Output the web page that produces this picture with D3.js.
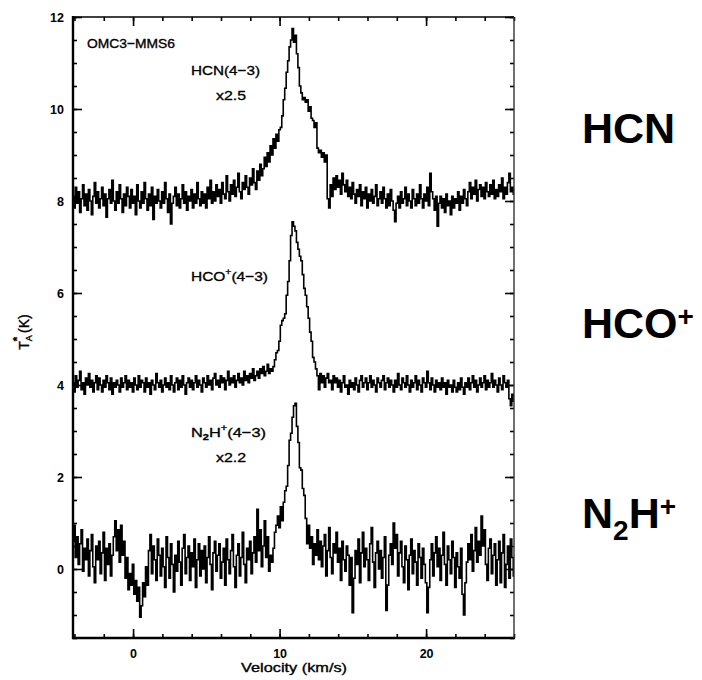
<!DOCTYPE html>
<html>
<head>
<meta charset="utf-8">
<script src="https://cdn.jsdelivr.net/npm/d3@7/dist/d3.min.js"></script>
<style>
  html, body { margin: 0; padding: 0; background: #fff; }
  svg { display: block; }
  text { font-family: "Liberation Sans", Arial, Helvetica, sans-serif; }
</style>
</head>
<body>
<svg id="chart" width="702" height="680"></svg>
<script>
// ---- data ----
const velocityStart = -4.1;   // km/s, first channel
const velocityStep = 0.1;     // km/s, channel width
const xMajorTicks = [0, 10, 20];
const yMajorTicks = [0, 2, 4, 6, 8, 10, 12];

// HCN(4-3) x2.5, offset +8 K
const hcn = [
  8.10, 7.85, 8.30, 7.95, 8.20, 7.75, 8.05, 8.35, 7.90, 8.15,
  7.80, 8.25, 8.00, 7.70, 8.10, 8.40, 7.95, 8.20, 7.85, 8.05,
  8.30, 7.90, 8.15, 7.65, 8.05, 8.25, 7.95, 8.45, 8.00, 7.80,
  8.20, 7.95, 8.35, 8.05, 7.75, 8.15, 7.90, 8.30, 8.10, 7.85,
  8.25, 7.95, 8.10, 7.70, 8.35, 8.00, 7.85, 8.20, 7.95, 8.40,
  8.05, 7.80, 8.15, 7.90, 8.30, 7.60, 8.10, 7.95, 8.25, 8.00,
  7.85, 8.20, 7.95, 8.40, 8.05, 7.75, 8.15, 7.50, 7.95, 8.10,
  8.30, 7.90, 8.15, 7.85, 8.05, 8.35, 7.95, 8.20, 7.80, 8.10,
  8.00, 8.25, 7.85, 8.15, 7.95, 8.40, 8.05, 7.90, 8.20, 7.95,
  8.15, 7.85, 8.30, 8.05, 8.45, 7.95, 8.20, 8.00, 8.35, 8.10,
  8.25, 7.95, 8.40, 8.15, 8.05, 8.55, 8.20, 8.00, 8.35, 8.15,
  8.45, 8.10, 8.30, 8.60, 8.20, 8.05, 8.40, 8.25, 8.55, 8.30,
  8.15, 8.50, 8.35, 8.70, 8.40, 8.25, 8.65, 8.45, 8.80, 8.55,
  8.70, 8.95, 8.75, 9.05, 8.85, 9.20, 9.00, 9.35, 9.15, 9.45,
  9.30, 9.55, 9.60, 9.85, 10.20, 10.45, 10.80, 11.05, 11.35, 11.50,
  11.75, 11.45, 11.60, 11.20, 10.90, 10.50, 10.35, 10.20, 10.25, 10.15,
  10.20, 9.95, 10.05, 9.80, 9.75, 9.60, 9.70, 9.15, 9.05, 9.10,
  8.95, 9.05, 8.85, 9.00, 8.05, 7.85, 8.35, 8.10, 8.50, 8.25,
  8.55, 8.30, 8.45, 8.15, 8.60, 8.35, 8.20, 8.45, 8.10, 8.30,
  8.05, 8.40, 8.15, 7.95, 8.25, 8.10, 8.35, 7.90, 8.20, 8.05,
  8.30, 7.85, 8.15, 8.00, 8.25, 7.95, 8.10, 8.35, 7.90, 8.05,
  8.20, 7.95, 8.30, 8.05, 7.85, 8.15, 7.90, 8.25, 8.00, 7.80,
  7.55, 7.95, 8.10, 7.85, 8.20, 7.95, 8.05, 8.30, 7.90, 8.15,
  8.00, 7.85, 8.25, 8.05, 7.90, 8.15, 7.95, 8.35, 8.05, 7.85,
  8.15, 8.00, 8.30, 7.90, 8.60, 8.20, 8.05, 7.80, 8.10, 7.45,
  7.95, 8.10, 7.85, 8.05, 7.75, 8.15, 7.90, 8.00, 7.70, 8.10,
  7.85, 8.05, 7.95, 8.20, 7.80, 8.10, 7.95, 8.25, 8.05, 7.90,
  8.20, 8.40, 8.05, 8.30, 8.15, 8.45, 8.00, 8.25, 8.35, 8.10,
  8.30, 8.05, 8.40, 8.20, 8.10, 8.35, 8.15, 8.45, 8.05, 8.25,
  8.10, 8.35, 8.20, 8.50, 8.05, 8.30, 8.15, 8.40, 8.60, 8.20,
  8.30, 8.15
];

// HCO+(4-3), offset +4 K
const hcop = [
  4.05, 3.85, 4.20, 3.95, 4.10, 4.30, 3.90, 4.05, 3.80, 4.15,
  4.00, 4.25, 3.95, 4.10, 3.85, 4.05, 4.20, 3.90, 4.15, 4.00,
  3.85, 4.10, 3.95, 4.20, 4.05, 3.90, 4.15, 3.80, 4.05, 3.95,
  4.10, 4.00, 3.85, 4.15, 3.95, 4.05, 4.20, 3.90, 4.10, 3.95,
  4.05, 3.85, 4.15, 4.00, 3.90, 4.20, 3.95, 4.10, 4.05, 3.85,
  4.15, 3.95, 4.05, 3.80, 4.10, 4.00, 3.90, 4.25, 4.05, 3.95,
  4.10, 3.85, 4.00, 4.15, 3.95, 4.05, 3.90, 4.20, 4.00, 3.85,
  4.05, 4.15, 3.90, 4.10, 3.95, 4.20, 4.00, 3.80, 4.05, 4.15,
  3.95, 4.10, 3.90, 4.05, 4.20, 3.95, 4.10, 4.00, 3.85, 4.15,
  4.05, 3.95, 4.20, 4.00, 4.10, 3.90, 4.15, 4.25, 4.00, 4.10,
  3.95, 4.20, 4.05, 4.15, 3.90, 4.10, 4.30, 4.00, 4.15, 4.05,
  4.20, 3.95, 4.10, 4.25, 4.05, 4.15, 4.00, 4.30, 4.10, 4.20,
  4.05, 4.25, 4.15, 4.35, 4.10, 4.20, 4.30, 4.15, 4.35, 4.25,
  4.40, 4.20, 4.30, 4.45, 4.25, 4.35, 4.30, 4.40, 4.55, 4.70,
  4.75, 4.95, 5.30, 5.40, 5.45, 5.55, 5.95, 6.25, 6.70, 7.25,
  7.55, 7.45, 7.35, 7.10, 6.95, 6.80, 6.70, 6.40, 6.10, 5.95,
  5.70, 5.45, 5.15, 4.95, 4.60, 4.50, 4.35, 4.20, 3.90, 4.25,
  4.05, 4.20, 3.95, 4.15, 4.25, 4.05, 4.10, 3.90, 4.20, 4.05,
  4.15, 3.95, 4.10, 3.85, 4.05, 4.20, 3.95, 4.00, 3.80, 4.10,
  3.95, 4.05, 3.90, 4.15, 4.00, 3.85, 4.10, 4.20, 3.95, 4.05,
  4.15, 3.90, 4.05, 4.20, 3.95, 4.10, 4.00, 3.85, 4.15, 4.05,
  3.95, 4.10, 4.20, 3.90, 4.05, 4.15, 3.95, 4.10, 4.00, 3.85,
  4.10, 3.95, 4.25, 4.00, 3.90, 4.15, 4.05, 3.95, 4.20, 4.00,
  3.85, 4.10, 3.95, 4.05, 4.20, 3.90, 4.10, 4.00, 3.85, 4.15,
  4.05, 3.95, 4.30, 4.05, 3.90, 4.15, 4.00, 3.85, 4.10, 3.95,
  4.05, 3.90, 4.15, 3.95, 4.05, 3.80, 4.10, 3.95, 4.00, 3.85,
  4.10, 3.95, 3.85, 4.05, 3.90, 4.15, 3.95, 3.80, 4.05, 3.95,
  4.15, 3.90, 4.05, 4.20, 3.95, 4.10, 3.85, 4.00, 4.15, 3.95,
  4.05, 4.20, 3.90, 4.10, 3.95, 4.05, 4.25, 3.95, 4.10, 4.00,
  3.85, 4.15, 4.00, 3.90, 4.20, 4.05, 3.95, 4.10, 3.70, 3.55,
  3.80, 3.65
];

// N2H+(4-3) x2.2, no offset
const n2hp = [
  0.60, 0.95, 0.25, 0.70, 0.10, 0.55, 0.85, -0.05, 0.45, 0.20,
  0.65, -0.15, 0.40, 0.75, 0.05, -0.30, 0.50, 0.20, 0.60, -0.10,
  0.35, 0.80, -0.25, 0.45, 0.10, 0.55, -0.15, 0.30, 0.70, 1.05,
  0.40, 0.85, 0.15, 0.95, 0.30, 0.60, -0.20, 0.25, -0.45, -0.10,
  -0.35, 0.10, -0.55, -0.25, -0.70, -0.40, -1.05, -0.80, -0.30, -0.60,
  0.05, -0.35, 0.40, 0.75, -0.10, 0.50, 0.20, -0.25, 0.65, 0.30,
  -0.15, 0.45, 0.05, -0.40, 0.70, 0.25, -0.20, 0.55, 0.10, -0.50,
  0.30, -0.05, 0.60, 0.15, -0.35, 0.45, 0.75, -0.10, 0.25, 0.50,
  -0.25, 0.35, 0.05, 0.65, -0.40, 0.20, 0.55, -0.15, 0.40, 0.00,
  0.50, -0.30, 0.25, 0.70, 0.10, -0.45, 0.35, 0.60, -0.05, 0.30,
  0.55, -0.20, 0.15, 0.45, -0.35, 0.65, 0.20, -0.10, 0.40, 0.75,
  0.05, -0.40, 0.30, 0.55, -0.15, 0.25, 0.80, 0.10, -0.30, 0.45,
  0.20, 0.60, -0.10, 0.35, 0.70, 0.15, 1.30, 0.40, 0.85, 0.05,
  0.50, 1.05, 0.25, 0.70, -0.05, 0.30, 0.15, 0.45, 0.80, 0.95,
  1.15, 0.90, 1.35, 1.05, 1.45, 1.70, 1.80, 2.25, 2.80, 2.95,
  3.30, 3.55, 3.60, 3.10, 2.75, 2.20, 2.15, 1.75, 1.60, 1.10,
  0.55, 0.95, 0.45, 0.70, 0.10, 0.55, 0.30, 0.85, 0.20, 0.60,
  0.05, 0.50, 0.75, -0.15, 0.40, 0.90, 0.25, -0.10, 0.55, 0.35,
  0.80, 0.15, 0.45, -0.25, 0.60, 0.20, -0.05, 0.50, 0.30, -0.35,
  0.25, -0.95, -0.20, 0.40, 0.10, 0.65, -0.30, 0.35, 0.80, 0.05,
  0.45, 0.20, -0.25, 0.55, 0.90, 0.15, -0.40, 0.35, 0.60, 0.00,
  0.40, -0.20, 0.25, 0.70, -0.90, -0.35, 0.30, 0.55, 0.10, 1.00,
  0.45, 0.75, -0.15, 0.35, 0.60, 0.05, -0.30, 0.50, 0.20, -0.45,
  0.30, 0.65, -0.10, 0.40, 0.15, -0.35, 0.55, 0.25, -0.20, 0.45,
  0.10, -0.30, -0.95, -0.40, 0.20, 0.55, -0.15, 0.35, 0.70, 0.05,
  0.45, -0.25, 0.30, 0.80, 0.10, -0.35, 0.50, 0.20, -0.10, 0.60,
  0.25, -0.40, 0.35, 0.05, -0.20, 0.45, -0.55, -1.00, -0.30, 0.15,
  0.55, 0.20, 0.75, -0.05, 0.40, 0.90, 0.15, 0.60, 0.30, 1.15,
  0.50, 0.85, 0.10, -0.25, 0.45, 0.65, -0.10, 0.30, 0.55, -0.35,
  0.20, 0.60, -0.30, 0.35, 0.75, -0.40, 0.10, 0.50, -0.20, 0.65,
  0.25, -0.15
];

const seriesList = [hcn, hcop, n2hp];

// ---- layout ----
const W = 702, H = 680;
const L = 73, R = 514, T = 17, B = 638;

const svg = d3.select("#chart");
svg.append("rect").attr("width", W).attr("height", H).attr("fill", "#fff");

const x = d3.scaleLinear().domain([-4.1, 26]).range([L, R]);
const y = d3.scaleLinear().domain([-1.5, 12]).range([B, T]);

const xMinor = d3.range(-4, 26.01, 2);
const yMinor = d3.range(-1.5, 12.01, 0.5);

svg.append("clipPath").attr("id", "plotclip")
  .append("rect").attr("x", L).attr("y", T).attr("width", R - L).attr("height", B - T);

// spectra
const line = d3.line()
  .x((d, i) => x(velocityStart + i * velocityStep))
  .y(d => y(d))
  .curve(d3.curveStep);

const gData = svg.append("g").attr("clip-path", "url(#plotclip)");
seriesList.forEach(s => {
  gData.append("path")
    .attr("d", line(s))
    .attr("fill", "none")
    .attr("stroke", "#000")
    .attr("stroke-width", 1.6)
    .attr("stroke-linejoin", "miter");
});

function styleAxis(g) {
  g.select(".domain").remove();
  g.selectAll(".tick line").attr("stroke", "#000").attr("stroke-width", 1.6);
}

const tickFont = g => g.selectAll("text").attr("fill", "#000")
  .style("font-size", "12.5px").style("font-weight", "bold")
  .style("font-family", "'Liberation Sans', Arial, sans-serif");

// bottom axis
svg.append("g").attr("transform", `translate(0,${B})`)
  .call(d3.axisBottom(x).tickValues(xMinor).tickSize(-4).tickFormat(""))
  .call(styleAxis);
svg.append("g").attr("transform", `translate(0,${B})`)
  .call(d3.axisBottom(x).tickValues(xMajorTicks).tickSize(-9).tickPadding(11).tickFormat(d3.format("d")))
  .call(styleAxis).call(tickFont);

// top axis
svg.append("g").attr("transform", `translate(0,${T})`)
  .call(d3.axisTop(x).tickValues(xMinor).tickSize(-4).tickFormat(""))
  .call(styleAxis);
svg.append("g").attr("transform", `translate(0,${T})`)
  .call(d3.axisTop(x).tickValues(xMajorTicks).tickSize(-9).tickFormat(""))
  .call(styleAxis);

// left axis
svg.append("g").attr("transform", `translate(${L},0)`)
  .call(d3.axisLeft(y).tickValues(yMinor).tickSize(-4).tickFormat(""))
  .call(styleAxis);
svg.append("g").attr("transform", `translate(${L},0)`)
  .call(d3.axisLeft(y).tickValues(yMajorTicks).tickSize(-9).tickPadding(9).tickFormat(d3.format("d")))
  .call(styleAxis).call(tickFont);

// right axis
svg.append("g").attr("transform", `translate(${R},0)`)
  .call(d3.axisRight(y).tickValues(yMinor).tickSize(-4).tickFormat(""))
  .call(styleAxis);
svg.append("g").attr("transform", `translate(${R},0)`)
  .call(d3.axisRight(y).tickValues(yMajorTicks).tickSize(-9).tickFormat(""))
  .call(styleAxis);

// frame
svg.append("line").attr("x1", L).attr("x2", L).attr("y1", T - 1).attr("y2", B + 1)
  .attr("stroke", "#000").attr("stroke-width", 2.4);
svg.append("line").attr("x1", L - 1).attr("x2", R + 1).attr("y1", B).attr("y2", B)
  .attr("stroke", "#000").attr("stroke-width", 2.4);
svg.append("line").attr("x1", L).attr("x2", R).attr("y1", T).attr("y2", T)
  .attr("stroke", "#000").attr("stroke-width", 1.6);
svg.append("line").attr("x1", R).attr("x2", R).attr("y1", T).attr("y2", B)
  .attr("stroke", "#333").attr("stroke-width", 1.4);

// axis titles
svg.append("text")
  .attr("x", 294).attr("y", 672)
  .attr("text-anchor", "middle")
  .attr("textLength", 106).attr("lengthAdjust", "spacingAndGlyphs")
  .attr("stroke", "#000").attr("stroke-width", 0.35)
  .style("font-size", "13px")
  .text("Velocity (km/s)");

const yt = svg.append("text")
  .attr("transform", "translate(29,332) rotate(-90)")
  .attr("text-anchor", "middle")
  .attr("stroke", "#000").attr("stroke-width", 0.35)
  .style("font-size", "14px");
yt.append("tspan").text("T");
yt.append("tspan").attr("dy", 3).style("font-size", "9px").text("A");
yt.append("tspan").attr("dx", -6).attr("dy", -11).style("font-size", "11px").style("font-weight", "bold").text("*");
yt.append("tspan").attr("dy", 8).text(" (K)");

// in-plot labels
const lab = (tx, ty, len) => svg.append("text")
  .attr("x", tx).attr("y", ty)
  .attr("textLength", len).attr("lengthAdjust", "spacingAndGlyphs")
  .attr("stroke", "#000").attr("stroke-width", 0.35)
  .style("font-size", "13.5px");

lab(87, 48, 88).text("OMC3\u2212MMS6");
lab(191, 75, 69).text("HCN(4\u22123)");
lab(216, 100, 30).text("x2.5");

const l2 = lab(191, 281, 77);
l2.append("tspan").text("HCO");
l2.append("tspan").attr("dy", -6).style("font-size", "9px").text("+");
l2.append("tspan").attr("dy", 6).text("(4\u22123)");

const l3 = lab(191, 437, 75);
l3.append("tspan").text("N");
l3.append("tspan").attr("dy", 3).style("font-size", "9px").style("font-weight", "bold").text("2");
l3.append("tspan").attr("dy", -3).text("H");
l3.append("tspan").attr("dy", -6).style("font-size", "9px").text("+");
l3.append("tspan").attr("dy", 6).text("(4\u22123)");

lab(216, 462, 30).text("x2.2");

// big right-hand labels
const big = (ty) => svg.append("text")
  .attr("x", 582).attr("y", ty)
  .style("font-size", "43px").style("font-weight", "bold");

big(143).text("HCN");
const b2 = big(338);
b2.append("tspan").text("HCO");
b2.append("tspan").attr("dy", -12).style("font-size", "28px").text("+");
const b3 = big(528);
b3.append("tspan").text("N");
b3.append("tspan").attr("dy", 12).style("font-size", "28px").text("2");
b3.append("tspan").attr("dy", -12).text("H");
b3.append("tspan").attr("dy", -12).style("font-size", "28px").text("+");
</script>
</body>
</html>
